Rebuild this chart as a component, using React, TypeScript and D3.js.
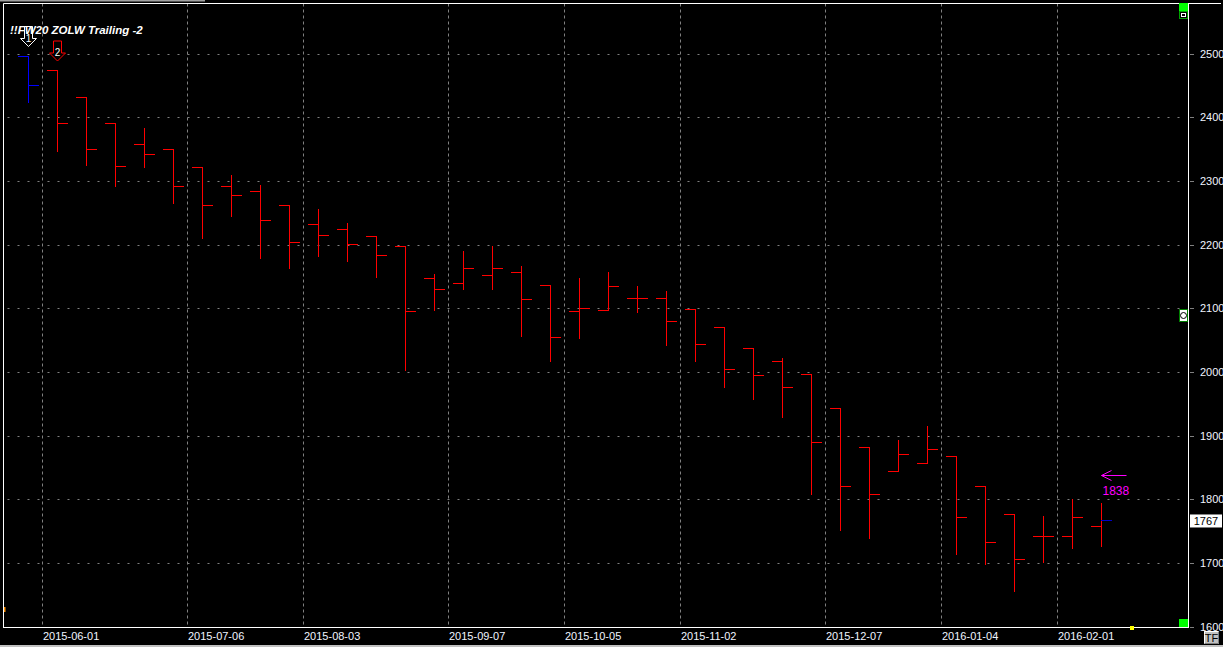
import React, { useEffect } from 'react';
import * as d3 from 'd3';

// ---- data ----
const weekStarts = [
  '2015-05-25', '2015-06-01', '2015-06-08', '2015-06-15', '2015-06-22', '2015-06-29',
  '2015-07-06', '2015-07-13', '2015-07-20', '2015-07-27', '2015-08-03', '2015-08-10',
  '2015-08-17', '2015-08-24', '2015-08-31', '2015-09-07', '2015-09-14', '2015-09-21',
  '2015-09-28', '2015-10-05', '2015-10-12', '2015-10-19', '2015-10-26', '2015-11-02',
  '2015-11-09', '2015-11-16', '2015-11-23', '2015-11-30', '2015-12-07', '2015-12-14',
  '2015-12-21', '2015-12-28', '2016-01-04', '2016-01-11', '2016-01-18', '2016-01-25',
  '2016-02-01', '2016-02-08',
];
const opens = [
  2497, 2474, 2432, 2391, 2358, 2351, 2322, 2292, 2285, 2263, 2233, 2225, 2214, 2198,
  2148, 2140, 2152, 2157, 2137, 2096, 2097, 2116, 2116, 2099, 2071, 2038, 2017, 1997,
  1943, 1882, 1844, 1858, 1869, 1821, 1777, 1742, 1742, 1758,
];
const highs = [
  2497, 2474, 2432, 2391, 2383, 2351, 2322, 2309, 2294, 2263, 2257, 2235, 2214, 2198,
  2154, 2191, 2198, 2167, 2137, 2148, 2158, 2136, 2128, 2099, 2071, 2038, 2022, 1997,
  1943, 1882, 1894, 1916, 1869, 1821, 1777, 1774, 1800, 1794,
];
const lows = [
  2424, 2348, 2326, 2292, 2322, 2266, 2210, 2245, 2179, 2163, 2183, 2174, 2150, 2004,
  2098, 2130, 2130, 2057, 2018, 2053, 2097, 2095, 2042, 2017, 1977, 1958, 1930, 1809,
  1752, 1740, 1844, 1858, 1715, 1699, 1657, 1702, 1723, 1727,
];
const closes = [
  2451, 2391, 2351, 2324, 2343, 2292, 2263, 2278, 2239, 2204, 2215, 2201, 2184, 2096,
  2130, 2164, 2164, 2115, 2055, 2100, 2135, 2116, 2080, 2044, 2005, 1995, 1976, 1890,
  1821, 1808, 1871, 1880, 1772, 1733, 1707, 1742, 1772, 1767,
];
const xTickLabels = [
  '2015-06-01', '2015-07-06', '2015-08-03', '2015-09-07', '2015-10-05',
  '2015-11-02', '2015-12-07', '2016-01-04', '2016-02-01',
];
const yTickValues = [1600, 1700, 1800, 1900, 2000, 2100, 2200, 2300, 2400, 2500];
const titleText = '!!FW20 ZOLW Trailing -2';
const signalLabels = ['1', '2'];
const lastPrice = 1767;
const alertPrice = 1838;

const W = 1223;
const H = 647;
const FONT = "'Liberation Sans', Arial, sans-serif";
const GRID = '#808080';

export default function App() {
  useEffect(() => {
    document.body.style.margin = '0';
    document.body.style.background = '#000';
  }, []);

  const DAY = 86400000;
  const barDates = weekStarts.map((s) => new Date(Date.parse(s + 'T00:00:00Z') + 3.5 * DAY));
  const x = d3
    .scaleUtc()
    .domain([barDates[0], barDates[barDates.length - 1]])
    .range([28.5, 1101.5]);
  const y = d3.scaleLinear().domain([1600, 2500]).range([627.3, 54.3]);
  const px = (v: number) => Math.round(v + 1e-6) - 0.5;
  const py = (v: number) => Math.floor(v + 1e-6) + 0.5;

  const plotL = 3.5;
  const plotR = 1188.5;
  const plotT = 3.5;
  const plotB = 627.5;

  const bars = barDates.map((d, i) => ({
    cx: px(x(d)),
    o: py(y(opens[i])),
    h: py(y(highs[i])),
    l: py(y(lows[i])),
    c: py(y(closes[i])),
    color: i === 0 ? '#0000ff' : '#ff0000',
    closeColor: i === 0 ? '#0000ff' : i === barDates.length - 1 ? '#0000c8' : '#ff0000',
  }));

  const gridX = xTickLabels.map((s) => ({ label: s, gx: px(x(new Date(s + 'T00:00:00Z'))) }));

  const lastY = y(lastPrice);
  const alertY = py(y(alertPrice));
  const lastBar = bars[bars.length - 1];

  // signal arrows above first two bars
  const arrowShape = (cx: number, tip: number) => {
    const sw = 4; // half shaft width
    const hw = 8; // half head width
    const headH = 8;
    const shaftH = 12;
    const hy = tip - headH;
    const ty = hy - shaftH;
    return `M${cx - sw},${ty} L${cx + sw},${ty} L${cx + sw},${hy} L${cx + hw},${hy} L${cx},${tip} L${cx - hw},${hy} L${cx - sw},${hy} Z`;
  };
  const sig1Tip = bars[0].h - 10;
  const sig2Tip = bars[1].h - 9.5;

  return (
    <svg
      width={W}
      height={H}
      style={{ position: 'absolute', left: 0, top: 0, display: 'block', background: '#000' }}
      fontFamily={FONT}
    >
      <rect x={0} y={0} width={W} height={H} fill="#000" />
      <rect x={0} y={0} width={205} height={1.5} fill="#a0a0a0" />

      {/* horizontal grid */}
      {yTickValues.map((v) => (
        <line
          key={'hg' + v}
          x1={plotL}
          x2={plotR - 2}
          y1={py(y(v))}
          y2={py(y(v))}
          stroke={GRID}
          strokeWidth={1}
          strokeDasharray="2,8"
          strokeDashoffset={-4}
        />
      ))}
      {/* vertical grid */}
      {gridX.map((g) => (
        <line
          key={'vg' + g.label}
          x1={g.gx}
          x2={g.gx}
          y1={plotT}
          y2={plotB}
          stroke={GRID}
          strokeWidth={1}
          strokeDasharray="3,3"
        />
      ))}

      {/* OHLC bars */}
      {bars.map((b, i) => (
        <g key={'b' + i} strokeWidth={1} shapeRendering="crispEdges">
          <line x1={b.cx} x2={b.cx} y1={b.h - 0.5} y2={b.l + 0.5} stroke={b.color} />
          <line x1={b.cx - 10.5} x2={b.cx + 0.5} y1={b.o} y2={b.o} stroke={b.color} />
          <line x1={b.cx - 0.5} x2={b.cx + 10.5} y1={b.c} y2={b.c} stroke={b.closeColor} />
        </g>
      ))}

      {/* frame */}
      <line x1={plotL} x2={1221} y1={plotT} y2={plotT} stroke="#fff" />
      <line x1={plotL} x2={plotL} y1={plotT} y2={plotB + 0.5} stroke="#fff" />
      <line x1={plotR} x2={plotR} y1={plotT} y2={plotB + 0.5} stroke="#fff" />
      <line x1={plotL} x2={plotR} y1={plotB} y2={plotB} stroke="#fff" />
      <rect x={4} y={607} width={1.5} height={5} fill="#ff9000" />

      {/* right axis */}
      {yTickValues.map((v) => (
        <g key={'yt' + v}>
          <line x1={1190} x2={1194} y1={py(y(v))} y2={py(y(v))} stroke={GRID} />
          <text x={1200} y={py(y(v))} dy="0.35em" fontSize={11} fill="#f0f4ff">
            {v}
          </text>
        </g>
      ))}

      {/* bottom axis labels */}
      {gridX.map((g) => (
        <text key={'xl' + g.label} x={g.gx + 0.5} y={640} fontSize={11} fill="#f0f4ff">
          {g.label}
        </text>
      ))}

      {/* signal arrows */}
      <path d={arrowShape(bars[0].cx, sig1Tip)} fill="none" stroke="#fff" strokeWidth={1} />
      <text x={bars[0].cx} y={sig1Tip - 5} fontSize={10} fill="#fff" textAnchor="middle">
        {signalLabels[0]}
      </text>
      <path d={arrowShape(bars[1].cx, sig2Tip)} fill="#000" stroke="#ff0000" strokeWidth={1} />
      <text x={bars[1].cx} y={sig2Tip - 5} fontSize={10} fill="#fff" textAnchor="middle">
        {signalLabels[1]}
      </text>

      {/* title */}
      <text x={10} y={34} fontSize={11.5} fontWeight="bold" fontStyle="italic" fill="#fff">
        {titleText}
      </text>

      {/* alert arrow */}
      <g stroke="#ff00ff" strokeWidth={1} fill="none">
        <line x1={lastBar.cx} x2={lastBar.cx + 25} y1={alertY} y2={alertY} />
        <polyline
          points={`${lastBar.cx + 10},${alertY - 5} ${lastBar.cx},${alertY} ${lastBar.cx + 10},${alertY + 5}`}
        />
      </g>
      <text x={lastBar.cx + 1} y={alertY + 19} fontSize={12} fill="#ff00ff">
        {alertPrice}
      </text>

      {/* last price box */}
      <rect x={1190} y={lastY - 6.5} width={32} height={13} fill="#fff" />
      <text x={1206} y={lastY} dy="0.36em" fontSize={11} fill="#000" textAnchor="middle">
        {lastPrice}
      </text>

      {/* icons */}
      <rect x={1179} y={3} width={9} height={8} fill="#00ff00" />
      <rect x={1179.5} y={11.5} width={8} height={7} fill="#000" stroke="#00a000" />
      <rect x={1181.5} y={13.5} width={4} height={3} fill="#000" stroke="#fff" />
      <rect x={1179.5} y={309.5} width={8} height={12} fill="#fff" stroke="#008000" />
      <circle cx={1183.5} cy={315.5} r={3} fill="#fff" stroke="#000" />
      <rect x={1179} y={619} width={9} height={8} fill="#00ff00" />
      <rect x={1130} y={626} width={4} height={4} fill="#ffff00" />

      {/* TF button */}
      <rect x={1204} y={631} width={15} height={13} fill="#c0c0c0" />
      <path d="M1204.5,644 L1204.5,631.5 L1219,631.5" stroke="#fff" fill="none" />
      <path d="M1218.5,631.5 L1218.5,643.5 L1204.5,643.5" stroke="#808080" fill="none" />
      <text x={1211.5} y={642} fontSize={11} fill="#000" textAnchor="middle">
        TF
      </text>

      {/* bottom window strip */}
      <rect x={0} y={645} width={W} height={2} fill="#c0c0c0" />
    </svg>
  );
}
